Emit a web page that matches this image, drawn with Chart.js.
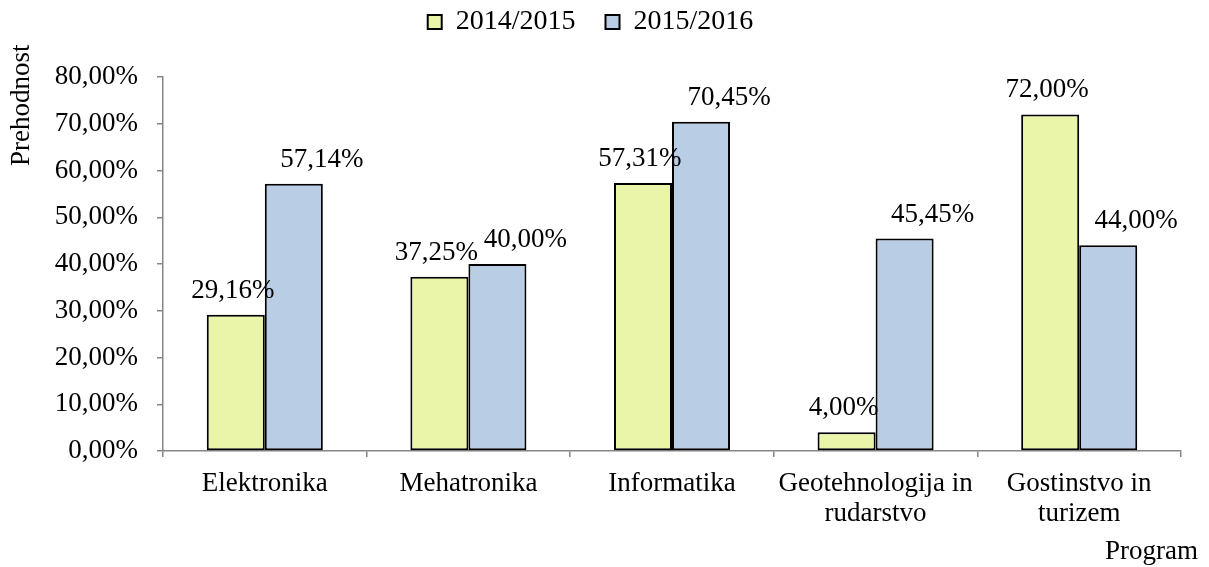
<!DOCTYPE html>
<html>
<head>
<meta charset="utf-8">
<script src="https://cdn.jsdelivr.net/npm/chart.js@4/dist/chart.umd.min.js"></script>
<style>
  html, body { margin: 0; padding: 0; background: #ffffff; }
  #wrap { width: 1209px; height: 567px; }
</style>
</head>
<body>
<div id="wrap"><canvas id="programChart" width="1209" height="567"></canvas></div>
<script>
const programs = [
  'Elektronika',
  'Mehatronika',
  'Informatika',
  ['Geotehnologija in', 'rudarstvo'],
  ['Gostinstvo in', 'turizem']
];
const years = ['2014/2015', '2015/2016'];
const values1415 = [29.16, 37.25, 57.31, 4.00, 72.00];
const values1516 = [57.14, 40.00, 70.45, 45.45, 44.00];
const yTicks = [0, 10, 20, 30, 40, 50, 60, 70, 80];

const FONT = '"Liberation Serif", "Times New Roman", serif';
const AXIS_GRAY = '#868686';
const colors = {
  green: '#ebf5a9',
  blue: '#b9cde5',
  border: '#000000'
};

function pct(v) {
  return v.toFixed(2).replace('.', ',') + '%';
}

// value labels above bars, blue ones sit a bit to the right like in the original
const valueLabels = {
  id: 'valueLabels',
  afterDatasetsDraw(chart) {
    const ctx = chart.ctx;
    ctx.save();
    ctx.font = '27px ' + FONT;
    ctx.fillStyle = '#000';
    ctx.textAlign = 'center';
    ctx.textBaseline = 'alphabetic';
    chart.data.datasets.forEach((ds, di) => {
      const meta = chart.getDatasetMeta(di);
      const shift = di === 0 ? -3 : 28;
      meta.data.forEach((bar, i) => {
        ctx.fillText(pct(ds.data[i]), bar.x + shift, bar.y - 17);
      });
    });
    ctx.restore();
  }
};

const axisTitles = {
  id: 'axisTitles',
  afterDraw(chart) {
    const ctx = chart.ctx;
    ctx.save();
    ctx.font = '27px ' + FONT;
    ctx.fillStyle = '#000';
    ctx.textBaseline = 'middle';
    ctx.translate(22, 166);
    ctx.rotate(-Math.PI / 2);
    ctx.textAlign = 'left';
    ctx.fillText('Prehodnost', 0, 0);
    ctx.restore();

    ctx.save();
    ctx.font = '27px ' + FONT;
    ctx.fillStyle = '#000';
    ctx.textBaseline = 'middle';
    ctx.textAlign = 'right';
    ctx.fillText('Program', 1198, 552);
    ctx.restore();
  }
};

// fixed legend band height, and legend drawn a bit higher than its padding would put it
const legendBox = {
  id: 'legendBox',
  beforeInit(chart) {
    const legend = chart.legend;
    const fit = legend.fit;
    legend.fit = function () {
      fit.call(legend);
      this.height = 77;
    };
    const draw = legend.draw;
    legend.draw = function () {
      const c = this.ctx;
      c.save();
      c.translate(0, -22);
      draw.call(legend);
      c.restore();
    };
  }
};

new Chart(document.getElementById('programChart'), {
  type: 'bar',
  data: {
    labels: programs,
    datasets: [
      {
        label: years[0],
        data: values1415,
        backgroundColor: colors.green,
        borderColor: colors.border,
        borderWidth: 2,
        borderSkipped: false
      },
      {
        label: years[1],
        data: values1516,
        backgroundColor: colors.blue,
        borderColor: colors.border,
        borderWidth: 2,
        borderSkipped: false
      }
    ]
  },
  options: {
    responsive: false,
    animation: false,
    layout: { padding: { left: 0, right: 28, top: 0, bottom: 0 } },
    datasets: {
      bar: { categoryPercentage: 0.57, barPercentage: 1.0 }
    },
    scales: {
      x: {
        offset: true,
        grid: {
          offset: true,
          drawOnChartArea: false,
          drawTicks: true,
          tickLength: 6,
          color: AXIS_GRAY,
          lineWidth: 1.5
        },
        border: { color: AXIS_GRAY, width: 1.5 },
        ticks: {
          color: '#000',
          font: { family: FONT, size: 27, lineHeight: 1.1 },
          padding: 12,
          maxRotation: 0,
          autoSkip: false
        },
        afterFit(scale) { scale.height = 116; }
      },
      y: {
        min: 0,
        max: 80,
        afterBuildTicks(scale) {
          scale.ticks = yTicks.map(v => ({ value: v }));
        },
        grid: {
          drawOnChartArea: false,
          drawTicks: true,
          tickLength: 6,
          color: AXIS_GRAY,
          lineWidth: 1.5
        },
        border: { color: AXIS_GRAY, width: 1.5 },
        ticks: {
          color: '#000',
          font: { family: FONT, size: 27 },
          padding: 19,
          callback: v => pct(v)
        },
        afterFit(scale) { scale.width = 163; }
      }
    },
    plugins: {
      legend: {
        position: 'top',
        labels: {
          color: '#000',
          font: { family: FONT, size: 28 },
          boxWidth: 14,
          boxHeight: 14,
          padding: 30,
          generateLabels(chart) {
            return chart.data.datasets.map((ds, i) => ({
              text: ds.label,
              fillStyle: ds.backgroundColor,
              strokeStyle: '#000',
              lineWidth: 2,
              datasetIndex: i,
              hidden: false
            }));
          }
        }
      },
      tooltip: { enabled: false }
    }
  },
  plugins: [legendBox, valueLabels, axisTitles]
});
</script>
</body>
</html>
